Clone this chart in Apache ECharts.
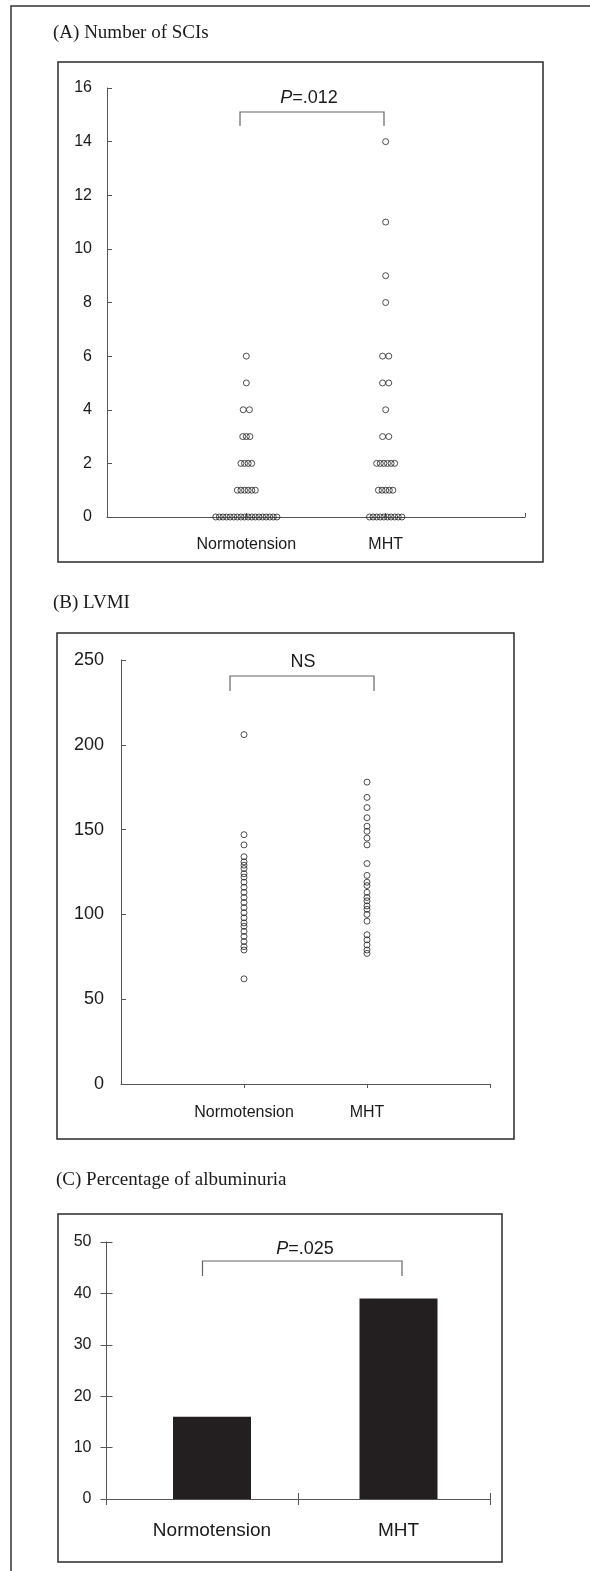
<!DOCTYPE html>
<html><head><meta charset="utf-8">
<script src="https://cdn.jsdelivr.net/npm/echarts@6/dist/echarts.min.js"></script>
<style>html,body{margin:0;padding:0;background:#fff}#c{width:590px;height:1571px}</style>
</head><body><div id="c"></div>
<script>
// ---------- data ----------
const groups = ['Normotension', 'MHT'];
// (A) number of silent cerebral infarcts, one entry per subject
const sciNormo = [0,0,0,0,0,0,0,0,0,0,0,0,0,0,0,0,0,0, 1,1,1,1,1,1, 2,2,2,2, 3,3,3, 4,4, 5, 6];
const sciMHT   = [0,0,0,0,0,0,0,0,0,0, 1,1,1,1,1, 2,2,2,2,2,2, 3,3, 4, 5,5, 6,6, 8, 9, 11, 14];
const sciTicks = [0, 2, 4, 6, 8, 10, 12, 14, 16];
// (B) LVMI, one entry per subject
const lvmiNormo = [206,147,141,134,131,129,127,124,122,119,116,113,110,107,104,101,98,95,93,90,87,84,81,79,62];
const lvmiMHT   = [178,169,163,157,152,149,145,141,130,123,119,117,113,110,108,105,103,100,96,88,85,82,79,77];
const lvmiTicks = [0, 50, 100, 150, 200, 250];
// (C) percentage of albuminuria
const albuminuria = [16, 39];
const albTicks = [0, 10, 20, 30, 40, 50];

// ---------- helpers ----------
const SANS = '"Liberation Sans", Arial, sans-serif';
const SERIF = '"Liberation Serif", "Times New Roman", serif';
const INK = '#1a1a1a';
const AXIS = '#555';

// horizontal spreading of tied values (style offset in px, value stays on the group position)
function swarm(values, xPos) {
  const counts = {}; values.forEach(v => counts[v] = (counts[v] || 0) + 1);
  const seen = {};
  return values.map(v => {
    const n = counts[v];
    seen[v] = seen[v] === undefined ? 0 : seen[v] + 1;
    const step = n <= 2 ? 6.2 : 3.6;
    return { value: [xPos, v], symbolOffset: [(seen[v] - (n - 1) / 2) * step, 0] };
  });
}
const tickMax = a => a[a.length - 1];
const tickStep = a => a[1] - a[0];

const dotStyle = { color: 'rgba(0,0,0,0)', borderColor: '#222', borderWidth: 1 };

function valueX(grid, ticksDir, labelMargin, fontSize) {
  return {
    gridIndex: grid, type: 'value', min: 0, max: 3, interval: 1,
    axisLine: { show: true, onZero: false, lineStyle: { color: AXIS, width: 1 } },
    axisTick: { show: true, inside: ticksDir === 'in', length: 4, customValues: [1, 2, 3], lineStyle: { color: AXIS } },
    axisLabel: { customValues: [1, 2], formatter: v => groups[v - 1] || '', margin: labelMargin,
                 fontSize: fontSize, fontFamily: SANS, color: INK },
    splitLine: { show: false }
  };
}
function valueY(grid, ticks, fontSize, margin) {
  return {
    gridIndex: grid, type: 'value', min: 0, max: tickMax(ticks), interval: tickStep(ticks),
    axisLine: { show: true, lineStyle: { color: AXIS, width: 1 } },
    axisTick: { show: true, inside: true, length: 5, lineStyle: { color: AXIS } },
    axisLabel: { fontSize: fontSize, fontFamily: SANS, color: INK, margin: margin },
    splitLine: { show: false }
  };
}

const chart = echarts.init(document.getElementById('c'), null, { renderer: 'canvas' });

const box = (x, y, w, h) => ({ type: 'rect', shape: { x, y, width: w, height: h },
  style: { fill: 'none', stroke: '#2a2a2a', lineWidth: 1.5 }, silent: true });
const title = (t, x, y) => ({ type: 'text', style: { text: t, x, y, fill: INK, fontSize: 19,
  fontFamily: SERIF, verticalAlign: 'middle' }, silent: true });
const bracket = (x1, x2, yTop, yEnd) => ({ type: 'polyline',
  shape: { points: [[x1, yEnd], [x1, yTop], [x2, yTop], [x2, yEnd]] },
  style: { fill: 'none', stroke: '#666', lineWidth: 1.2 }, silent: true });
const note = (t, x, y, size) => ({ type: 'text', style: { text: t, x, y, fill: INK, fontSize: size,
  fontFamily: SANS, align: 'center', verticalAlign: 'middle',
  rich: { i: { fontStyle: 'italic', fontSize: size, fontFamily: SANS, fill: INK } } }, silent: true });

chart.setOption({
  animation: false,
  backgroundColor: '#fff',
  grid: [
    { left: 107, top: 88, width: 418, height: 429 },
    { left: 121, top: 660, width: 369, height: 424 },
    { left: 106.5, top: 1242, width: 384, height: 257 },   // (C) axis frame
    { left: 118.75, top: 1242, width: 373, height: 257 }   // (C) bars + group labels
  ],
  xAxis: [
    valueX(0, 'in', 20, 16),
    valueX(1, 'out', 21, 16),
    { gridIndex: 2, type: 'category', data: groups, position: 'bottom', boundaryGap: true,
      axisLine: { show: true, lineStyle: { color: AXIS, width: 1 } },
      axisTick: { show: true, length: 6, lineStyle: { color: AXIS } },
      axisLabel: { show: false } },
    { gridIndex: 2, type: 'category', data: groups, position: 'bottom', boundaryGap: true,
      axisLine: { show: false }, axisTick: { show: true, inside: true, length: 6, lineStyle: { color: AXIS } },
      axisLabel: { show: false } },
    { gridIndex: 3, type: 'category', data: groups, position: 'bottom', boundaryGap: true,
      axisLine: { show: false }, axisTick: { show: false },
      axisLabel: { margin: 22, fontSize: 19, fontFamily: SANS, color: INK } }
  ],
  yAxis: [
    valueY(0, sciTicks, 16, 15),
    valueY(1, lvmiTicks, 18, 17),
    { gridIndex: 2, type: 'value', position: 'left', min: 0, max: tickMax(albTicks), interval: tickStep(albTicks),
      axisLine: { show: true, lineStyle: { color: AXIS, width: 1 } },
      axisTick: { show: true, length: 6, lineStyle: { color: AXIS } },
      axisLabel: { fontSize: 16, fontFamily: SANS, color: INK, margin: 15 }, splitLine: { show: false } },
    { gridIndex: 2, type: 'value', position: 'left', min: 0, max: tickMax(albTicks), interval: tickStep(albTicks),
      axisLine: { show: false }, axisTick: { show: true, inside: true, length: 6, lineStyle: { color: AXIS } },
      axisLabel: { show: false }, splitLine: { show: false } },
    { gridIndex: 3, type: 'value', position: 'left', min: 0, max: tickMax(albTicks), interval: tickStep(albTicks),
      axisLine: { show: false }, axisTick: { show: false }, axisLabel: { show: false }, splitLine: { show: false } }
  ],
  series: [
    { type: 'scatter', xAxisIndex: 0, yAxisIndex: 0, symbol: 'circle', symbolSize: 6, itemStyle: dotStyle,
      data: swarm(sciNormo, 1) },
    { type: 'scatter', xAxisIndex: 0, yAxisIndex: 0, symbol: 'circle', symbolSize: 6, itemStyle: dotStyle,
      data: swarm(sciMHT, 2) },
    { type: 'scatter', xAxisIndex: 1, yAxisIndex: 1, symbol: 'circle', symbolSize: 6, itemStyle: dotStyle,
      data: lvmiNormo.map(v => [1, v]) },
    { type: 'scatter', xAxisIndex: 1, yAxisIndex: 1, symbol: 'circle', symbolSize: 6, itemStyle: dotStyle,
      data: lvmiMHT.map(v => [2, v]) },
    { type: 'bar', xAxisIndex: 4, yAxisIndex: 4, barWidth: 78, itemStyle: { color: '#231f20' },
      data: albuminuria }
  ],
  graphic: [
    { type: 'polyline', shape: { points: [[11, 1571], [11, 6], [590, 6]] },
      style: { fill: 'none', stroke: '#333', lineWidth: 1.5 }, silent: true },
    title('(A) Number of SCIs', 53, 33),
    title('(B) LVMI', 53, 603),
    title('(C) Percentage of albuminuria', 56, 1180),
    box(58, 62, 485, 500),
    box(57, 633, 457, 506),
    box(58, 1214, 444, 348),
    bracket(240, 384, 112, 126),
    note('{i|P}=.012', 309, 98, 18),
    bracket(230, 374, 676, 691),
    note('NS', 303, 662, 18),
    bracket(202.5, 402, 1261, 1276),
    note('{i|P}=.025', 305, 1249, 18)
  ]
});
</script>
</body></html>
